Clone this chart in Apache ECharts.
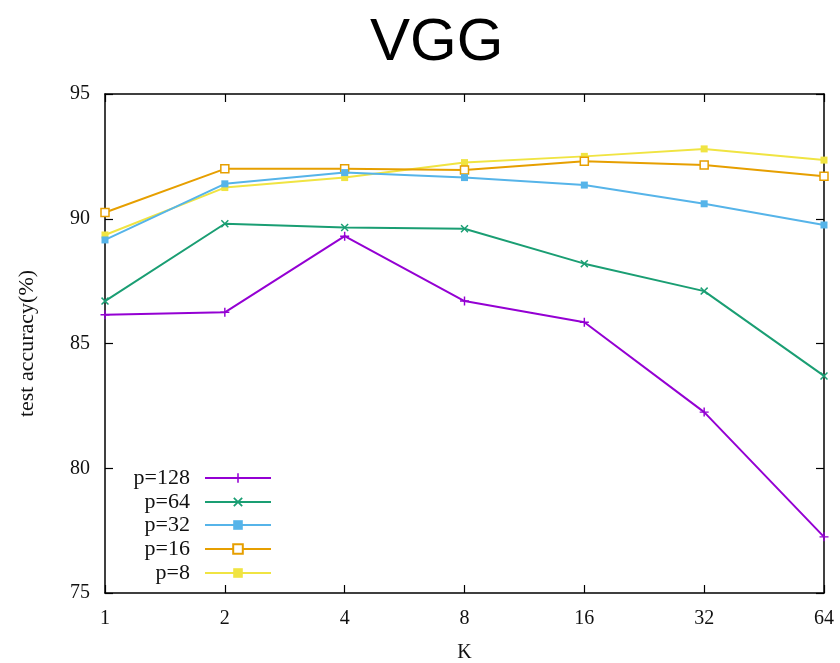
<!DOCTYPE html>
<html><head><meta charset="utf-8">
<script src="https://cdn.jsdelivr.net/npm/echarts@6/dist/echarts.min.js"></script>
<style>html,body{margin:0;padding:0;background:#fff}#c{width:840px;height:663px}</style>
</head><body><div id="c"></div>
<script>
const categories = ['1','2','4','8','16','32','64'];
const seriesNames = ['p=128','p=64','p=32','p=16','p=8'];
const p128 = [86.15, 86.25, 89.3, 86.7, 85.85, 82.25, 77.25];
const p64  = [86.7, 89.8, 89.65, 89.6, 88.2, 87.1, 83.7];
const p32  = [89.15, 91.4, 91.85, 91.65, 91.35, 90.6, 89.75];
const p16  = [90.25, 92.0, 92.0, 91.95, 92.3, 92.15, 91.7];
const p8   = [89.35, 91.25, 91.65, 92.25, 92.5, 92.8, 92.35];
const yTicks = [75, 80, 85, 90, 95];

const colors = ['#9400d3', '#1a9e73', '#56b4e9', '#e69f00', '#f0e442'];
const values = [p128, p64, p32, p16, p8];
const symbols = [
  'path://M4.2,0h1.6v10h-1.6z M0,4.2h10v1.6h-10z',
  'path://M0,1.3L1.3,0L5,3.7L8.7,0L10,1.3L6.3,5L10,8.7L8.7,10L5,6.3L1.3,10L0,8.7L3.7,5z',
  'path://M0,0h10v10h-10z',
  'rect',
  'rect'
];
const symbolSizes = [9, 8, 7, 8, 7];
const legendCenters = [478, 502, 525, 549, 573];

const serif = 'Liberation Serif';
const chart = echarts.init(document.getElementById('c'));

const series = seriesNames.map((n, i) => ({
  name: n,
  type: 'line',
  data: values[i],
  symbol: symbols[i],
  symbolSize: symbolSizes[i],
  showAllSymbol: true,
  lineStyle: { color: colors[i], width: 2 },
  itemStyle: i === 3
    ? { color: '#ffffff', borderColor: colors[i], borderWidth: 1.5 }
    : { color: colors[i], borderWidth: 0 },
  emphasis: { disabled: true },
  animation: false,
  z: 10 - i
}));

const legends = seriesNames.map((n, i) => ({
  data: [n],
  orient: 'vertical',
  align: 'right',
  right: 840 - 272,
  top: legendCenters[i] - 11,
  padding: 0,
  itemWidth: 66,
  itemHeight: 12,
  textStyle: { fontFamily: serif, fontSize: 22, color: '#111', padding: [0, 10, 0, 0] },
  selectedMode: false
}));

const axisLine = { show: true, lineStyle: { color: '#000', width: 1.5 } };
chart.setOption({
  animation: false,
  backgroundColor: '#fff',
  title: {
    text: 'VGG',
    left: 365,
    top: 8,
    textStyle: { fontFamily: 'Liberation Sans', fontSize: 60, fontWeight: 'normal', color: '#000' }
  },
  legend: legends,
  grid: { left: 105, right: 16, top: 94, bottom: 70, outerBoundsMode: 'none', containLabel: false },
  xAxis: [{
    type: 'category',
    data: categories,
    boundaryGap: false,
    name: 'K',
    nameLocation: 'middle',
    nameGap: 50,
    nameTextStyle: { fontFamily: serif, fontSize: 20, color: '#111' },
    axisLine: axisLine,
    axisTick: { inside: true, length: 8, lineStyle: { color: '#000', width: 1.2 } },
    axisLabel: { fontFamily: serif, fontSize: 20, color: '#111', margin: 16 },
    splitLine: { show: false }
  }, {
    type: 'category',
    data: categories,
    boundaryGap: false,
    position: 'top',
    axisLine: axisLine,
    axisTick: { inside: true, length: 8, lineStyle: { color: '#000', width: 1.2 } },
    axisLabel: { show: false },
    splitLine: { show: false }
  }],
  yAxis: [{
    type: 'value',
    min: 75, max: 95, interval: 5,
    name: 'test accuracy(%)',
    nameLocation: 'middle',
    nameGap: 67,
    nameTextStyle: { fontFamily: serif, fontSize: 22, color: '#111' },
    axisLine: axisLine,
    axisTick: { show: true, inside: true, length: 8, lineStyle: { color: '#000', width: 1.2 } },
    axisLabel: { fontFamily: serif, fontSize: 20, color: '#111', margin: 15,
      formatter: v => yTicks.includes(v) ? String(v) : '' },
    splitLine: { show: false }
  }, {
    type: 'value',
    min: 75, max: 95, interval: 5,
    position: 'right',
    axisLine: axisLine,
    axisTick: { show: true, inside: true, length: 8, lineStyle: { color: '#000', width: 1.2 } },
    axisLabel: { show: false },
    splitLine: { show: false }
  }],
  series: series
});
</script>
</body></html>
